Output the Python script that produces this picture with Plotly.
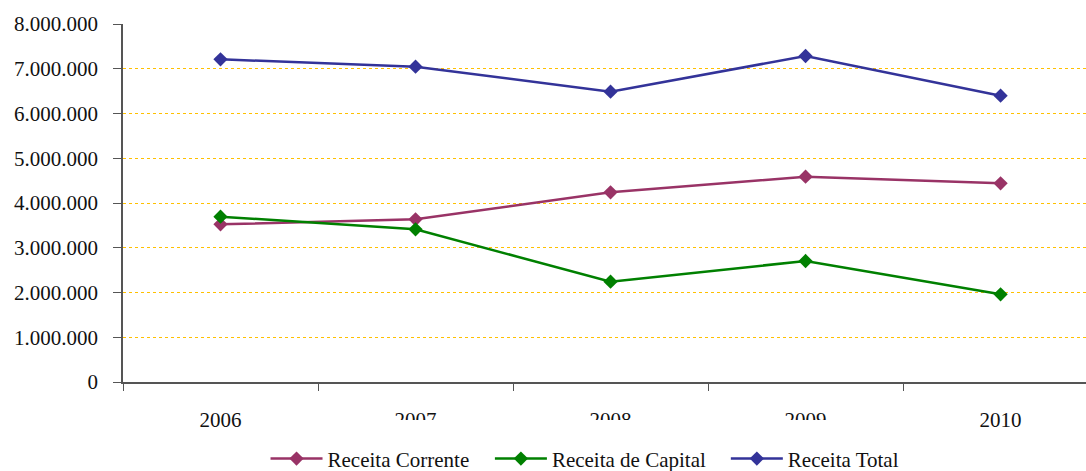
import plotly.graph_objects as go

# Annual revenue series (values in currency units)
anos = ["2006", "2007", "2008", "2009", "2010"]
receita_corrente = [3524000, 3636000, 4239000, 4588000, 4440000]
receita_capital = [3694000, 3412000, 2241000, 2704000, 1960000]
receita_total = [7211000, 7046000, 6487000, 7285000, 6398000]

y_ticks = [0, 1000000, 2000000, 3000000, 4000000, 5000000, 6000000, 7000000, 8000000]
y_tick_labels = ["0", "1.000.000", "2.000.000", "3.000.000", "4.000.000",
                 "5.000.000", "6.000.000", "7.000.000", "8.000.000"]

FONT = "Liberation Serif, Times New Roman, serif"

# name, values, colour, legend id, legend left edge (paper x)
series = [
    ("Receita Corrente", receita_corrente, "#993366", "legend", 0.148),
    ("Receita de Capital", receita_capital, "#008000", "legend2", 0.381),
    ("Receita Total", receita_total, "#333399", "legend3", 0.626),
]

fig = go.Figure()
legends = {}
for name, vals, color, leg, lx in series:
    fig.add_trace(go.Scatter(
        x=anos, y=vals, name=name, mode="lines+markers",
        line=dict(color=color, width=2.5),
        marker=dict(symbol="diamond", size=11, color=color),
        legend=leg,
    ))
    legends[leg] = dict(
        orientation="h", x=lx, xanchor="left", y=-0.215, yanchor="middle",
        font=dict(family=FONT, size=21, color="#111111"),
        itemwidth=52, bgcolor="rgba(0,0,0,0)",
    )

fig.update_layout(
    width=1086, height=471,
    margin=dict(l=123, r=0, t=24, b=89, autoexpand=False),
    paper_bgcolor="white", plot_bgcolor="white",
    font=dict(family=FONT, size=21, color="#111111"),
    showlegend=True,
    xaxis=dict(
        type="category", range=[-0.5, 4.438], tickson="boundaries",
        ticks="outside", ticklen=7, tickcolor="#555555",
        showline=True, linecolor="#555555", linewidth=1.5,
        showgrid=False, zeroline=False, ticklabelstandoff=18,
        automargin=False,
        tickfont=dict(family=FONT, size=21, color="#111111"),
    ),
    yaxis=dict(
        range=[0, 8000000], tickvals=y_ticks, ticktext=y_tick_labels,
        ticks="outside", ticklen=8, tickcolor="#555555",
        showline=True, linecolor="#555555", linewidth=1.5,
        showgrid=True, gridcolor="#FFC000", griddash="dot", gridwidth=1,
        zeroline=False, ticklabelstandoff=11, automargin=False,
        tickfont=dict(family=FONT, size=21, color="#111111"),
    ),
    shapes=[dict(
        type="rect", xref="paper", yref="paper",
        x0=0.148, x1=0.82, y0=-0.106, y1=-0.26,
        fillcolor="white", line=dict(width=0), layer="above",
    )],
    **legends,
)

fig.write_html("out.html")
